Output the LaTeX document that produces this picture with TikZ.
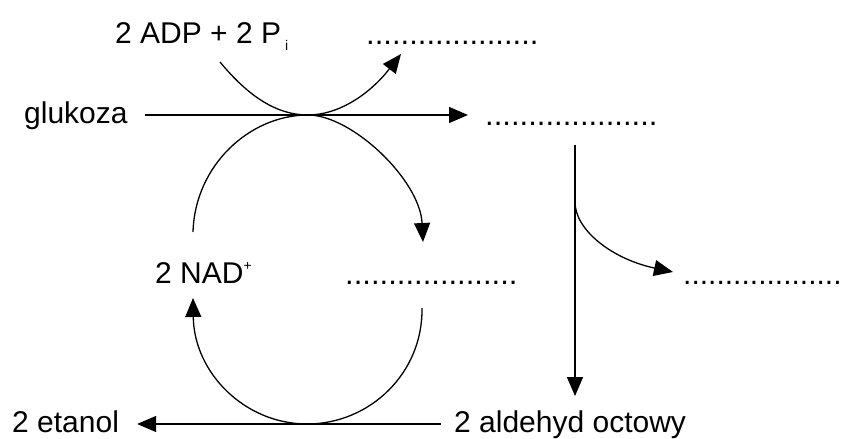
\documentclass[tikz,border=0pt]{standalone}
\usepackage{fontspec}
\setmainfont{Liberation Sans}
\usetikzlibrary{arrows.meta,positioning}

\tikzset{
  txt/.style={anchor=base west,inner sep=0pt,font=\fontsize{30}{36}\selectfont},
  kropki/.style={txt,font=\fontsize{31}{36}\selectfont},
  pil/.style={line width=1.3pt,-{Triangle[length=19pt,width=16pt]}},
}
\newcommand{\kropki}{....................}
\newcommand{\dol}[1]{\hspace{4pt}\raisebox{-7pt}{\fontsize{14}{14}\selectfont #1}}
\newcommand{\gora}[1]{\raisebox{13pt}{\fontsize{14}{14}\selectfont #1}}

\begin{document}
\begin{tikzpicture}[x=1pt,y=-1pt]
\useasboundingbox (0,0) rectangle (844,439);

\node[txt] (adp) at (115,43) {2 ADP + 2 P\dol{i}};
\node[kropki] (dots1) at (366,44) {\kropki};
\node[txt] (gluk) at (24,123) {glukoza};
\node[kropki] (dots2) at (485,125) {\kropki};
\node[txt] (nad) at (155,283) {2 NAD\gora{+}};
\node[kropki] (dots3) at (345,284) {\kropki};
\node[txt] (dots4) at (683,284) {...................};
\node[txt] (etanol) at (12,432) {2 etanol};
\node[txt] (ald) at (454,432) {2 aldehyd octowy};

% punkty styku lukow
\coordinate (m1) at (308,115);
\coordinate (m2) at (307,424);
\coordinate (b) at (575,202);
\coordinate (a1) at (220,62);
\coordinate (a2) at (401,54);
\coordinate (l1) at (193,232);
\coordinate (l2) at (423,242);
\coordinate (u1) at (193,298);
\coordinate (u2) at (422,308);
\coordinate (br) at (673,272);

\draw[pil,shorten <=17pt,shorten >=17pt] (gluk.east |- m1) -- (dots2.west |- m1);
\draw[pil,shorten <=13pt,shorten >=18pt] (ald.west |- m2) -- (etanol.east |- m2);
\draw[pil,shorten <=20pt,shorten >=14pt] (dots2.south -| b) -- (ald.north -| b);

\draw[pil] (a1) .. controls (249,97) and (277,115) .. (m1)
  .. controls (338,115) and (369,95) .. (a2);
\draw[pil] (l1) .. controls (195,165) and (250,115) .. (m1)
  .. controls (352,115) and (420,180) .. (l2);
\draw[pil] (u2) .. controls (423,373) and (370,424) .. (m2)
  .. controls (245,424) and (194,373) .. (u1);
\draw[pil] (b) .. controls (575,230) and (612,259) .. (br);

\end{tikzpicture}
\end{document}
